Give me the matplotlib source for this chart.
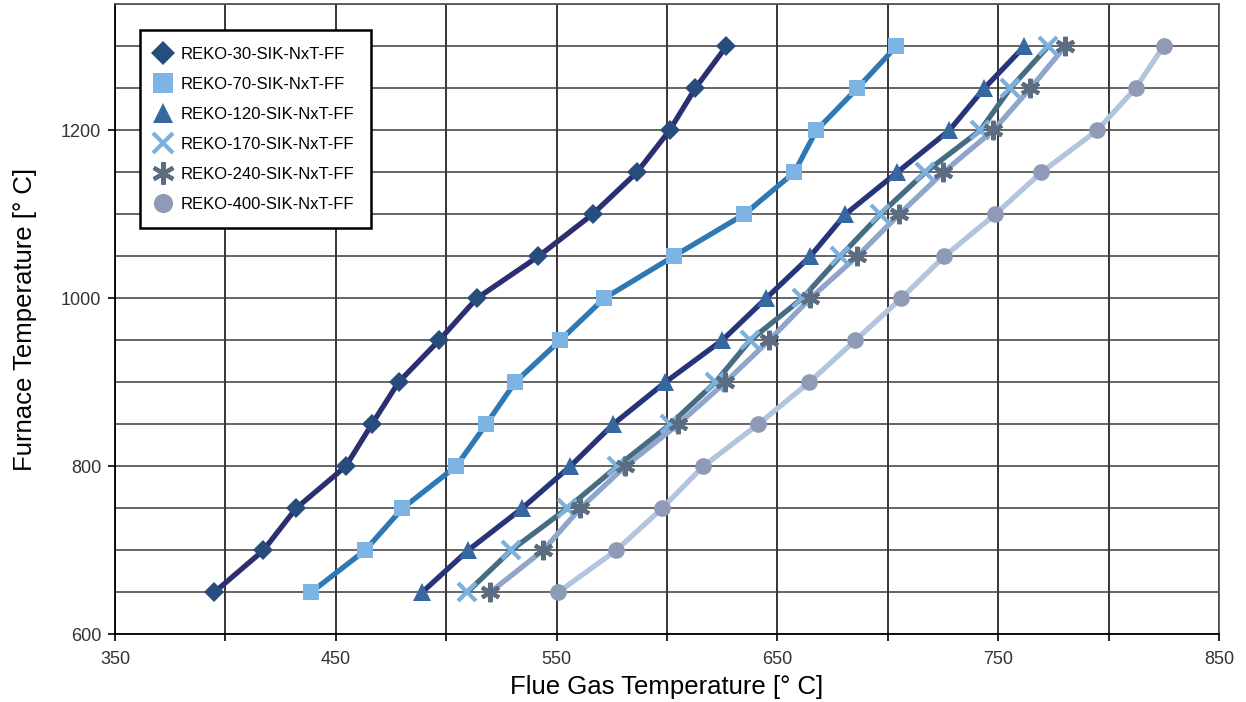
"""
REKO SIK NxT FF - flue gas temperature vs furnace temperature
"""

import matplotlib
matplotlib.use('Agg')
import matplotlib.pyplot as plt
from matplotlib.ticker import MultipleLocator, FixedLocator
import numpy as np

# furnace temperature [deg C], same for every series
furnace = [650, 700, 750, 800, 850, 900, 950, 1000, 1050, 1100, 1150, 1200, 1250, 1300]

# flue gas temperature [deg C]
reko_30 = [395.0, 417.2, 432.0, 454.5, 466.3, 478.4, 496.8, 513.9, 541.8, 566.3, 586.4, 601.2, 612.8, 626.9]
reko_70 = [438.8, 463.3, 480.2, 504.5, 518.1, 531.2, 551.6, 571.6, 603.0, 635.0, 657.7, 667.7, 686.2, 703.9]
reko_120 = [489.1, 509.9, 534.4, 556.2, 575.6, 599.2, 625.0, 644.9, 664.9, 680.8, 704.3, 727.9, 743.7, 761.9]
reko_170 = [509.5, 529.4, 554.8, 577.5, 601.5, 621.9, 637.7, 661.3, 678.5, 696.6, 717.0, 741.9, 755.5, 772.7]
reko_240 = [519.9, 543.9, 560.7, 581.1, 605.1, 626.4, 646.3, 664.9, 686.2, 705.2, 725.2, 747.8, 764.6, 780.4]
reko_400 = [550.7, 577.0, 597.8, 616.4, 641.3, 664.4, 685.3, 706.1, 725.6, 748.7, 769.6, 794.9, 812.2, 824.9]

labels = ['REKO-30-SIK-NxT-FF', 'REKO-70-SIK-NxT-FF', 'REKO-120-SIK-NxT-FF',
          'REKO-170-SIK-NxT-FF', 'REKO-240-SIK-NxT-FF', 'REKO-400-SIK-NxT-FF']
xticks = [350, 450, 550, 650, 750, 850]
yticks = [600, 800, 1000, 1200]

plt.rcParams['font.family'] = ['Liberation Sans', 'DejaVu Sans']


def main():
    fig = plt.figure(figsize=(12.46, 7.02), dpi=100)
    ax = fig.add_axes([0.0923, 0.0964, 0.8860, 0.8975])

    # (x data, line colour, marker, marker colour, marker size, edge width)
    styles = [
        (reko_30, '#2b2f72', 'D', '#274d7c', 10.5, 0),
        (reko_70, '#2e78b4', 's', '#7db4e3', 12, 0),
        (reko_120, '#27347a', '^', '#3568a1', 13, 0),
        (reko_170, '#466c82', 'x', '#7db1dd', 13, 3),
        (reko_240, '#8fa5cb', (6, 2, 0), '#5b6d80', 14, 3),
        (reko_400, '#b3c4df', 'o', '#8f9bb6', 12, 0),
    ]

    handles = []
    for (xs, lc, mk, mc, ms, mew), lab in zip(styles, labels):
        ax.plot(xs, furnace, color=lc, lw=3.8, solid_joinstyle='round',
                solid_capstyle='round', zorder=3)
        h, = ax.plot(xs, furnace, ls='none', marker=mk, ms=ms, color=mc,
                     mec=mc, mew=mew, zorder=4, label=lab)
        handles.append(h)

    ax.set_xlim(350, 850)
    ax.set_ylim(600, 1350)

    # grid every 50, labels every 100 / 200
    xgrid = np.arange(350, 851, 50)
    ax.xaxis.set_major_locator(FixedLocator(xgrid))
    ax.set_xticklabels([str(v) if v in xticks else '' for v in xgrid])
    ax.yaxis.set_major_locator(FixedLocator(yticks))
    ax.yaxis.set_minor_locator(MultipleLocator(50))
    ax.tick_params(axis='y', which='minor', length=0)
    ax.tick_params(axis='both', which='major', direction='out', length=5,
                   width=1.2, labelsize=13, labelcolor='#333333', color='black')
    ax.tick_params(axis='x', pad=7)
    ax.tick_params(axis='y', pad=5)

    ax.grid(axis='x', which='major', color='black', lw=1.1, zorder=1)
    ax.grid(axis='y', which='both', color='#3c3c3c', lw=1.1, zorder=1)
    ax.set_axisbelow(True)

    for side in ['left', 'bottom']:
        ax.spines[side].set_color('black')
        ax.spines[side].set_linewidth(1.3)
    for side in ['top', 'right']:
        ax.spines[side].set_color('#555555')
        ax.spines[side].set_linewidth(1.3)

    ax.set_xlabel('Flue Gas Temperature [° C]', fontsize=18.5, labelpad=5)
    ax.set_ylabel('Furnace Temperature [° C]', fontsize=18.5, labelpad=17)

    leg = ax.legend(handles=handles, loc='upper left', bbox_to_anchor=(0.0227, 0.959),
                    borderaxespad=0, fontsize=12, frameon=True, fancybox=False,
                    handlelength=0.8, handletextpad=0.66, labelspacing=0.9,
                    borderpad=1.0, framealpha=1, markerscale=1.15)
    leg.get_frame().set_edgecolor('black')
    leg.get_frame().set_linewidth(1.8)
    leg.set_zorder(10)

    fig.savefig('out.png', dpi=100)


if __name__ == "__main__":
    main()
